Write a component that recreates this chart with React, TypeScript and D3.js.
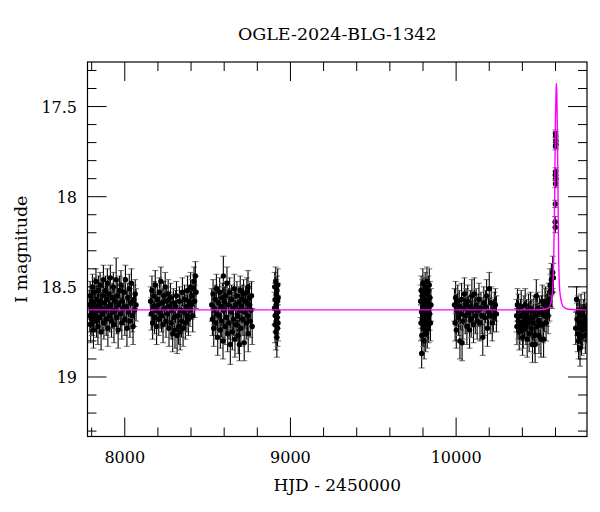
import React from "react";
import * as d3 from "d3";

type Obs = [number, number, number];

const title = "OGLE-2024-BLG-1342";
const xLabel = "HJD - 2450000";
const yLabel = "I magnitude";
const xTickLabels = [8000, 9000, 10000];
const yTickLabels = [17.5, 18, 18.5, 19];

const season1: Obs[] = [[7786,18.60,.08],[7789,18.66,.09],[7791,18.55,.08],[7794,18.71,.10],[7797,18.62,.08],[7799,18.58,.08],[7802,18.68,.09],[7805,18.50,.07],[7807,18.64,.09],[7811,18.74,.10],[7814,18.59,.08],[7816,18.53,.08],[7819,18.66,.09],[7822,18.61,.08],[7826,18.47,.07],[7829,18.69,.09],[7832,18.57,.08],[7835,18.63,.09],[7838,18.72,.10],[7841,18.52,.08],[7844,18.60,.08],[7848,18.67,.09],[7851,18.49,.07],[7854,18.58,.08],[7857,18.75,.10],[7861,18.62,.09],[7864,18.55,.08],[7867,18.65,.09],[7871,18.46,.08],[7874,18.70,.09],[7877,18.59,.08],[7881,18.63,.09],[7884,18.52,.08],[7888,18.68,.09],[7891,18.57,.08],[7895,18.48,.08],[7898,18.73,.10],[7902,18.61,.08],[7905,18.54,.08],[7909,18.66,.09],[7913,18.45,.07],[7916,18.60,.08],[7920,18.69,.09],[7924,18.56,.08],[7927,18.64,.09],[7931,18.50,.08],[7935,18.71,.10],[7939,18.58,.08],[7943,18.63,.09],[7948,18.46,.12],[7951,18.67,.09],[7955,18.55,.08],[7960,18.74,.10],[7964,18.60,.08],[7968,18.52,.08],[7973,18.65,.09],[7977,18.49,.08],[7982,18.70,.09],[7986,18.58,.08],[7991,18.62,.09],[7995,18.53,.08],[8000,18.68,.09],[8004,18.46,.08],[8009,18.61,.09],[8013,18.73,.10],[8018,18.56,.08],[8022,18.64,.09],[8027,18.51,.08],[8031,18.69,.09],[8036,18.59,.08],[8040,18.48,.08],[8045,18.66,.09],[8050,18.72,.10],[8054,18.57,.08],[8059,18.63,.09],[8063,18.54,.08],[8068,18.60,.09]];

const season2: Obs[] = [[8156,18.58,.08],[8160,18.65,.09],[8164,18.52,.08],[8168,18.70,.09],[8172,18.61,.08],[8176,18.55,.08],[8180,18.67,.09],[8184,18.49,.08],[8188,18.63,.09],[8192,18.72,.10],[8196,18.57,.08],[8200,18.60,.08],[8205,18.68,.09],[8209,18.53,.08],[8213,18.64,.09],[8218,18.47,.08],[8222,18.66,.09],[8226,18.59,.08],[8231,18.71,.10],[8235,18.55,.08],[8240,18.62,.09],[8244,18.50,.08],[8249,18.69,.09],[8253,18.58,.08],[8258,18.65,.09],[8262,18.54,.08],[8267,18.73,.10],[8271,18.61,.08],[8276,18.56,.08],[8280,18.70,.09],[8285,18.63,.09],[8289,18.76,.10],[8294,18.59,.08],[8298,18.67,.09],[8303,18.74,.10],[8307,18.61,.09],[8312,18.55,.08],[8316,18.77,.10],[8321,18.66,.09],[8325,18.72,.10],[8330,18.58,.08],[8334,18.75,.10],[8339,18.63,.09],[8343,18.69,.09],[8348,18.53,.08],[8352,18.73,.10],[8357,18.64,.09],[8361,18.57,.08],[8366,18.70,.09],[8370,18.61,.08],[8375,18.66,.09],[8379,18.52,.08],[8384,18.68,.09],[8388,18.58,.08],[8393,18.63,.09],[8397,18.50,.08],[8402,18.60,.08],[8406,18.55,.09],[8410,18.66,.09],[8414,18.51,.08],[8418,18.47,.08],[8422,18.58,.09],[8426,18.44,.08],[8430,18.53,.09]];

const season3: Obs[] = [[8525,18.60,.09],[8529,18.68,.09],[8533,18.54,.08],[8537,18.73,.10],[8541,18.62,.09],[8545,18.57,.08],[8549,18.70,.09],[8553,18.51,.08],[8557,18.65,.09],[8561,18.78,.10],[8565,18.59,.09],[8569,18.66,.09],[8573,18.53,.08],[8577,18.74,.10],[8581,18.61,.09],[8585,18.69,.09],[8589,18.56,.08],[8593,18.80,.10],[8595,18.44,.11],[8597,18.63,.09],[8601,18.58,.08],[8605,18.72,.10],[8609,18.55,.08],[8613,18.67,.09],[8617,18.48,.09],[8621,18.76,.10],[8625,18.60,.09],[8629,18.70,.09],[8633,18.53,.08],[8637,18.82,.11],[8641,18.64,.09],[8645,18.57,.08],[8649,18.75,.10],[8653,18.62,.09],[8657,18.68,.09],[8661,18.51,.08],[8665,18.79,.10],[8669,18.60,.09],[8673,18.71,.09],[8677,18.55,.08],[8681,18.66,.09],[8685,18.77,.10],[8689,18.59,.09],[8692,18.82,.09],[8693,18.63,.09],[8697,18.52,.08],[8701,18.73,.10],[8705,18.61,.09],[8709,18.57,.08],[8713,18.68,.09],[8717,18.54,.08],[8721,18.81,.10],[8725,18.64,.09],[8729,18.58,.08],[8733,18.70,.09],[8737,18.53,.08],[8741,18.66,.09],[8744,18.50,.09],[8745,18.76,.10],[8749,18.60,.09],[8753,18.56,.08],[8757,18.69,.09],[8761,18.63,.09],[8765,18.55,.08],[8769,18.72,.10]];

const season4: Obs[] = [[8904,18.62,.09],[8905,18.50,.08],[8907,18.71,.10],[8908,18.57,.09],[8909,18.66,.09],[8911,18.47,.08],[8912,18.75,.10],[8913,18.60,.09],[8914,18.54,.08],[8915,18.69,.09],[8917,18.63,.09],[8918,18.78,.11],[8919,18.52,.08],[8920,18.67,.09],[8921,18.58,.09],[8922,18.73,.10],[8923,18.49,.09],[8924,18.64,.09],[8925,18.70,.10],[8926,18.56,.08]];

const season5: Obs[] = [[9786,18.58,.09],[9788,18.70,.10],[9789,18.52,.08],[9791,18.64,.09],[9792,18.87,.08],[9793,18.77,.10],[9795,18.55,.09],[9796,18.68,.09],[9798,18.61,.09],[9799,18.48,.08],[9801,18.73,.10],[9802,18.59,.09],[9804,18.66,.09],[9805,18.53,.08],[9807,18.80,.10],[9808,18.62,.09],[9810,18.57,.08],[9811,18.71,.10],[9813,18.50,.08],[9814,18.65,.09],[9816,18.76,.10],[9818,18.60,.09],[9819,18.54,.08],[9821,18.69,.09],[9822,18.63,.09],[9824,18.47,.08],[9826,18.74,.10],[9828,18.58,.09],[9830,18.67,.09],[9832,18.52,.08],[9834,18.71,.10],[9836,18.61,.09],[9838,18.49,.09],[9840,18.65,.09],[9842,18.56,.09],[9845,18.70,.10],[9848,18.60,.09]];

const season6: Obs[] = [[9990,18.60,.09],[9994,18.70,.10],[9997,18.56,.09],[10001,18.74,.10],[10005,18.63,.09],[10010,18.58,.09],[10014,18.67,.10],[10019,18.61,.09],[10023,18.80,.10],[10028,18.65,.09],[10033,18.57,.09],[10036,18.81,.10],[10041,18.69,.10],[10046,18.62,.09],[10050,18.54,.09],[10055,18.66,.10],[10060,18.60,.09],[10065,18.72,.10],[10070,18.58,.09],[10076,18.64,.09],[10081,18.74,.10],[10086,18.61,.09],[10091,18.68,.10],[10095,18.55,.09],[10100,18.63,.09],[10105,18.71,.10],[10110,18.54,.09],[10116,18.66,.10],[10121,18.60,.09],[10127,18.69,.10],[10133,18.63,.09],[10138,18.57,.09],[10144,18.70,.10],[10150,18.62,.09],[10156,18.66,.10],[10161,18.78,.10],[10167,18.59,.09],[10173,18.67,.10],[10178,18.61,.09],[10184,18.55,.09],[10189,18.73,.10],[10195,18.64,.09],[10200,18.51,.09],[10206,18.66,.10],[10212,18.59,.09],[10218,18.70,.10],[10225,18.66,.09],[10231,18.62,.09],[10237,18.60,.09],[10243,18.65,.10]];

const season7: Obs[] = [[10365,18.66,.09],[10367,18.72,.10],[10370,18.60,.09],[10374,18.69,.10],[10377,18.63,.09],[10381,18.75,.10],[10385,18.72,.10],[10389,18.66,.09],[10393,18.61,.09],[10397,18.70,.10],[10401,18.78,.10],[10405,18.74,.10],[10409,18.64,.09],[10413,18.68,.10],[10417,18.60,.09],[10421,18.72,.10],[10425,18.66,.09],[10429,18.79,.10],[10433,18.70,.10],[10437,18.63,.09],[10441,18.76,.10],[10445,18.68,.10],[10449,18.62,.09],[10453,18.73,.10],[10457,18.67,.10],[10461,18.82,.10],[10465,18.70,.10],[10469,18.64,.09],[10473,18.77,.10],[10477,18.82,.10],[10481,18.66,.10],[10484,18.55,.09],[10488,18.72,.10],[10492,18.62,.09],[10496,18.69,.10],[10500,18.77,.10],[10504,18.64,.09],[10508,18.70,.10],[10512,18.79,.10],[10516,18.64,.09],[10520,18.58,.09],[10524,18.71,.10],[10528,18.79,.10],[10532,18.66,.09],[10536,18.60,.09],[10540,18.59,.09],[10543,18.70,.10],[10547,18.63,.09],[10551,18.61,.09],[10555,18.66,.10],[10559,18.57,.09],[10563,18.60,.09],[10567,18.49,.09],[10571,18.52,.09],[10575,18.46,.09],[10579,18.53,.09],[10583,18.42,.09],[10587,18.45,.08]];

const peakObs: Obs[] = [[10600,17.65,.02],[10601,17.66,.02],[10602,17.69,.02],[10600,17.72,.02],[10603,17.71,.02],[10601,17.86,.02],[10599,17.88,.02],[10602,17.90,.02],[10600,17.93,.02],[10599,18.04,.02],[10598,18.14,.03],[10599,18.17,.03]];

const season8: Obs[] = [[10722,18.73,.09],[10727,18.57,.07],[10730,18.68,.09],[10733,18.76,.10],[10736,18.64,.09],[10739,18.80,.10],[10742,18.70,.09],[10745,18.66,.09],[10748,18.84,.10],[10751,18.73,.09],[10754,18.63,.09],[10757,18.78,.10],[10760,18.69,.09],[10764,18.74,.10],[10768,18.66,.09],[10772,18.71,.09],[10776,18.62,.09],[10780,18.77,.10],[10785,18.68,.09],[10789,18.72,.09]];

const modelT = [7775, 10480, 10536, 10556, 10567, 10581, 10589, 10595, 10599, 10603, 10605, 10608, 10611, 10615, 10619, 10627, 10647, 10677, 10720, 10790];
const modelMag = [18.628, 18.628, 18.624, 18.618, 18.605, 18.536, 18.351, 17.981, 17.612, 17.43, 17.371, 17.43, 17.612, 17.981, 18.351, 18.536, 18.610, 18.624, 18.627, 18.628];

const W = 600;
const H = 512;
const L = 87.5, R = 587, T = 62, B = 436.5;
const FONT = "'DejaVu Serif', serif";

export default function App() {
  const x = d3.scaleLinear().domain([7775, 10790]).range([L, R]);
  const y = d3.scaleLinear().domain([17.253, 19.33]).range([T, B]);
  const all = [...season1, ...season2, ...season3, ...season4, ...season5, ...season6, ...season7, ...peakObs, ...season8];
  const model = modelT.map((t, i) => [t, modelMag[i]] as [number, number]);
  const line = d3.line<[number, number]>().x(d => x(d[0])).y(d => y(d[1])).curve(d3.curveMonotoneX);

  const xMinor = d3.range(7800, 10790, 200);
  const yMinor = d3.range(17.3, 19.31, 0.1).map(v => +v.toFixed(2));
  const isMajorY = (v: number) => Math.abs(v * 2 - Math.round(v * 2)) < 1e-6;
  const cap = 3;

  return (
    <svg width={W} height={H} style={{ position: "absolute", left: 0, top: 0, background: "#fff" }}>
      <defs>
        <clipPath id="plot"><rect x={L} y={T} width={R - L} height={B - T} /></clipPath>
      </defs>
      <text x={(L + R) / 2} y={40} textAnchor="middle" fontFamily={FONT} fontSize={17.5} fill="#000">{title}</text>
      <g clipPath="url(#plot)">
        {all.map((d, i) => {
          const cx = x(d[0]);
          const y1 = y(d[1] - d[2]);
          const y2 = y(d[1] + d[2]);
          return (
            <g key={"e" + i}>
              <line x1={cx - cap} x2={cx + cap} y1={y1} y2={y1} stroke="#707070" strokeWidth={1} />
              <line x1={cx - cap} x2={cx + cap} y1={y2} y2={y2} stroke="#707070" strokeWidth={1} />
              <line x1={cx} x2={cx} y1={y1} y2={y2} stroke="#000" strokeWidth={1.1} />
            </g>
          );
        })}
        {all.map((d, i) => (
          <circle key={"c" + i} cx={x(d[0])} cy={y(d[1])} r={2.7} fill="#000" />
        ))}
        <path d={line(model) || ""} fill="none" stroke="#ff00ff" strokeWidth={1.4} />
      </g>
      {xMinor.map(v => {
        const major = v % 1000 === 0;
        const len = major ? 19 : 9;
        return (
          <g key={"xt" + v}>
            <line x1={x(v)} x2={x(v)} y1={B} y2={B - len} stroke="#000" strokeWidth={1} />
            <line x1={x(v)} x2={x(v)} y1={T} y2={T + len} stroke="#000" strokeWidth={1} />
          </g>
        );
      })}
      {yMinor.map(v => {
        const len = isMajorY(v) ? 19 : 9;
        return (
          <g key={"yt" + v}>
            <line x1={L} x2={L + len} y1={y(v)} y2={y(v)} stroke="#000" strokeWidth={1} />
            <line x1={R} x2={R - len} y1={y(v)} y2={y(v)} stroke="#000" strokeWidth={1} />
          </g>
        );
      })}
      <rect x={L} y={T} width={R - L} height={B - T} fill="none" stroke="#000" strokeWidth={1.2} />
      {xTickLabels.map(v => (
        <text key={"xl" + v} x={x(v)} y={463} textAnchor="middle" fontFamily={FONT} fontSize={16} fill="#000">{v}</text>
      ))}
      {yTickLabels.map(v => (
        <text key={"yl" + v} x={77} y={y(v) + 6} textAnchor="end" fontFamily={FONT} fontSize={16} fill="#000">{String(v)}</text>
      ))}
      <text x={(L + R) / 2} y={491} textAnchor="middle" fontFamily={FONT} fontSize={17} fill="#000">{xLabel}</text>
      <text transform={`translate(27, ${(T + B) / 2}) rotate(-90)`} textAnchor="middle" fontFamily={FONT} fontSize={17.5} fill="#000">{yLabel}</text>
    </svg>
  );
}
